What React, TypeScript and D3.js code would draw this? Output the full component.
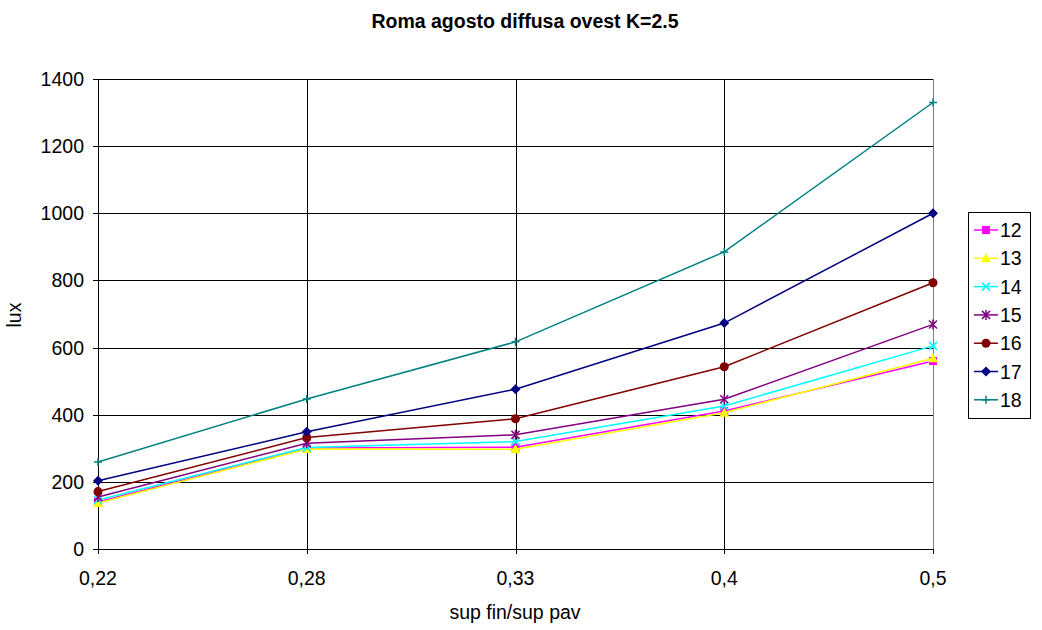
import React from "react";
import * as d3 from "d3";

const categories = ["0,22", "0,28", "0,33", "0,4", "0,5"];
const seriesNames = ["12", "13", "14", "15", "16", "17", "18"];
const s12 = [140, 301, 303, 411, 560];
const s13 = [137, 298, 297, 406, 568];
const s14 = [146, 302, 320, 426, 605];
const s15 = [155, 315, 340, 446, 669];
const s16 = [171, 332, 388, 543, 793];
const s17 = [203, 349, 476, 673, 1000];
const s18 = [259, 447, 617, 885, 1330];
const yTicks = [0, 200, 400, 600, 800, 1000, 1200, 1400];
const colors = ["#FF00FF", "#FFFF00", "#00FFFF", "#800080", "#800000", "#000080", "#008080"];
const markers = ["square", "triangle", "x", "star", "circle", "diamond", "plus"];

const allSeries = [s12, s13, s14, s15, s16, s17, s18];

function Marker({ type, x, y, color }: { type: string; x: number; y: number; color: string }) {
  const s = 4;
  switch (type) {
    case "square":
      return <rect x={x - s} y={y - s} width={2 * s} height={2 * s} fill={color} />;
    case "triangle":
      return <path d={`M${x},${y - s - 1}L${x + s + 1},${y + s}L${x - s - 1},${y + s}Z`} fill={color} />;
    case "x":
      return <path d={`M${x - s},${y - s}L${x + s},${y + s}M${x - s},${y + s}L${x + s},${y - s}`} stroke={color} strokeWidth={1.5} />;
    case "star":
      return (
        <path
          d={`M${x - s},${y - s}L${x + s},${y + s}M${x - s},${y + s}L${x + s},${y - s}M${x},${y - s - 1}L${x},${y + s + 1}`}
          stroke={color}
          strokeWidth={1.5}
        />
      );
    case "circle":
      return <circle cx={x} cy={y} r={s + 0.5} fill={color} />;
    case "diamond":
      return <path d={`M${x},${y - s - 1}L${x + s + 1},${y}L${x},${y + s + 1}L${x - s - 1},${y}Z`} fill={color} />;
    case "plus":
      return <path d={`M${x - s},${y}L${x + s},${y}M${x},${y - s}L${x},${y + s}`} stroke={color} strokeWidth={1.5} />;
  }
  return null;
}

export default function App() {
  const W = 1042, H = 630;
  const left = 98, right = 933, top = 79, bottom = 549;
  const x = d3.scalePoint<string>().domain(categories).range([left, right]);
  const y = d3.scaleLinear().domain([0, 1400]).range([bottom, top]);
  const line = d3
    .line<number>()
    .x((_, i) => x(categories[i])!)
    .y((d) => y(d));
  const font = "Liberation Sans, Arial, sans-serif";
  const fs = 19.5;
  const legX = 968, legY = 212, legW = 62, legH = 206;
  return (
    <svg width={W} height={H} style={{ position: "absolute", left: 0, top: 0 }} fontFamily={font}>
      <rect width={W} height={H} fill="#fff" />
      <text x={525} y={28} textAnchor="middle" fontSize={19.5} fontWeight="bold">
        Roma agosto diffusa ovest K=2.5
      </text>
      {yTicks.map((t) => (
        <g key={t}>
          <line x1={left} x2={right} y1={Math.round(y(t)) + 0.5} y2={Math.round(y(t)) + 0.5} stroke="#000" strokeWidth={1} />
          <line x1={left - 5} x2={left} y1={Math.round(y(t)) + 0.5} y2={Math.round(y(t)) + 0.5} stroke="#000" />
          <text x={84} y={y(t) + 7} textAnchor="end" fontSize={fs}>
            {t}
          </text>
        </g>
      ))}
      {categories.map((c, i) => (
        <g key={c}>
          <line
            x1={Math.round(x(c)!) + 0.5}
            x2={Math.round(x(c)!) + 0.5}
            y1={top}
            y2={bottom + 5}
            stroke={i === categories.length - 1 ? "#808080" : "#000"}
          />
          <text x={x(c)} y={585} textAnchor="middle" fontSize={fs}>
            {c}
          </text>
        </g>
      ))}
      <line x1={right + 0.5} x2={right + 0.5} y1={bottom} y2={bottom + 5} stroke="#000" />
      <line x1={left} x2={right} y1={bottom + 0.5} y2={bottom + 0.5} stroke="#000" />
      <text x={515} y={619} textAnchor="middle" fontSize={fs}>
        sup fin/sup pav
      </text>
      <text transform={`translate(21,315) rotate(-90)`} textAnchor="middle" fontSize={fs}>
        lux
      </text>
      {allSeries.map((s, si) => (
        <g key={si}>
          <path d={line(s)!} fill="none" stroke={colors[si]} strokeWidth={1.5} />
          {s.map((v, i) => (
            <Marker key={i} type={markers[si]} x={x(categories[i])!} y={y(v)} color={colors[si]} />
          ))}
        </g>
      ))}
      <rect x={legX + 0.5} y={legY + 0.5} width={legW} height={legH} fill="#fff" stroke="#000" />
      {seriesNames.map((n, i) => {
        const cy = legY + 18 + i * 28.3;
        return (
          <g key={n}>
            <line x1={legX + 6} x2={legX + 30} y1={cy} y2={cy} stroke={colors[i]} strokeWidth={1.5} />
            <Marker type={markers[i]} x={legX + 18} y={cy} color={colors[i]} />
            <text x={legX + 32} y={cy + 7} fontSize={fs}>
              {n}
            </text>
          </g>
        );
      })}
    </svg>
  );
}
